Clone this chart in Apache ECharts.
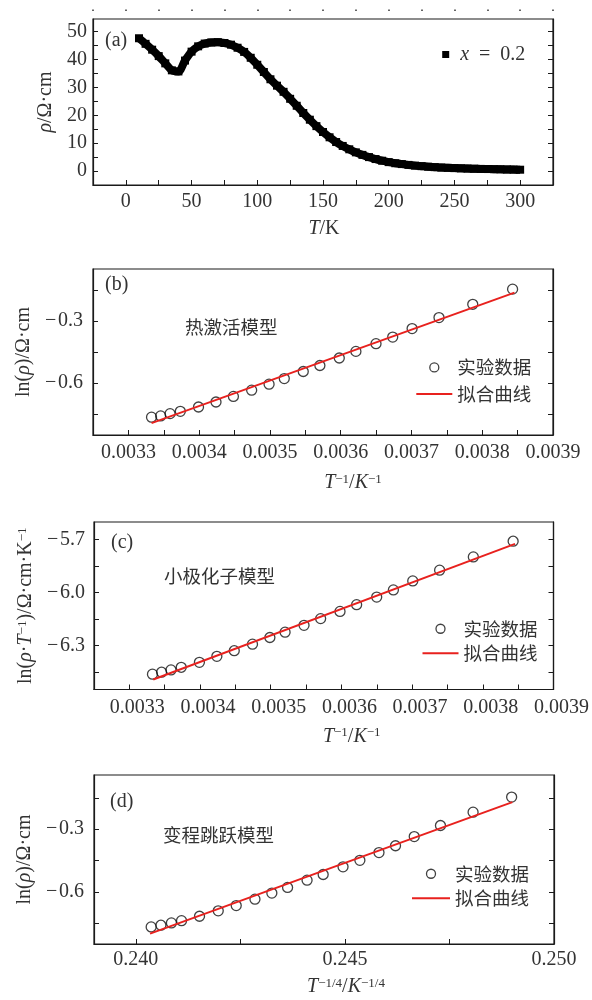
<!DOCTYPE html>
<html><head><meta charset="utf-8">
<script src="https://cdn.jsdelivr.net/npm/echarts@6/dist/echarts.min.js"></script>
<style>html,body{margin:0;padding:0;background:#fff}#c{width:592px;height:1000px}</style>
</head><body><div id="c"></div>
<script>
// ---- panel (a): resistivity vs temperature ----
const tempK = [10,15,20,25,30,35,40,45,50,55,60,65,70,75,80,85,90,95,100,105,110,115,120,125,130,135,140,145,150,155,160,165,170,175,180,185,190,195,200,205,210,215,220,225,230,235,240,245,250,255,260,265,270,275,280,285,290,295,300];
const rhoA = [47.6,45.6,43.5,41.2,38.6,36.1,35.7,39.6,42.8,44.7,45.7,46.1,46.2,45.9,45.3,44.2,42.7,40.6,38.1,35.5,32.9,30.6,28.4,25.9,23.4,20.8,18.4,16.1,14.0,12.1,10.4,9.0,7.8,6.7,5.8,5.0,4.3,3.7,3.2,2.8,2.5,2.2,1.95,1.75,1.55,1.4,1.25,1.15,1.05,0.97,0.9,0.83,0.77,0.72,0.67,0.62,0.57,0.52,0.48];
// ---- panels (b),(c): 1/T ----
const invT = [0.0033327,0.0033456,0.0033589,0.0033734,0.0033991,0.0034238,0.0034484,0.0034742,0.0034988,0.0035203,0.0035471,0.0035706,0.0035980,0.0036215,0.0036499,0.0036735,0.0037009,0.0037389,0.0037866,0.0038429];
const lnRhoB = [-0.764,-0.758,-0.747,-0.736,-0.715,-0.691,-0.664,-0.634,-0.605,-0.578,-0.544,-0.515,-0.479,-0.447,-0.410,-0.378,-0.337,-0.284,-0.220,-0.147];
const lnRhoTC = [-6.463,-6.452,-6.439,-6.424,-6.396,-6.362,-6.330,-6.293,-6.255,-6.225,-6.186,-6.148,-6.107,-6.069,-6.026,-5.985,-5.934,-5.873,-5.798,-5.709];
// ---- panel (d): T^-1/4 ----
const tQuarter = [0.240367,0.240600,0.240851,0.241093,0.241523,0.241971,0.242401,0.242849,0.243253,0.243629,0.244095,0.244480,0.244955,0.245358,0.245815,0.246210,0.246658,0.247285,0.248065,0.248987];
const lnRhoD = [-0.768,-0.760,-0.749,-0.738,-0.717,-0.691,-0.666,-0.635,-0.606,-0.579,-0.544,-0.517,-0.480,-0.449,-0.412,-0.379,-0.335,-0.282,-0.218,-0.146];
// ---- fitted lines (end points) ----
const fitBx = [0.0033327, 0.0038456], fitBy = [-0.793, -0.164];
const fitCx = [0.0033338, 0.0038456], fitCy = [-6.493, -5.724];
const fitDx = [0.240341, 0.249005], fitDy = [-0.8005, -0.170];
// ---- tick values / labels ----
const ticksAx = [-25,0,25,50,75,100,125,150,175,200,225,250,275,300,325];
const labelsAx = [0,50,100,150,200,250,300];
const ticksAy = [-5,0,5,10,15,20,25,30,35,40,45,50];
const labelsAy = [0,10,20,30,40,50];
const ticksInvT = [0.0033,0.00335,0.0034,0.00345,0.0035,0.00355,0.0036,0.00365,0.0037,0.00375,0.0038,0.00385,0.0039];
const labelsInvT = [0.0033,0.0034,0.0035,0.0036,0.0037,0.0038,0.0039];
const ticksLnRho = [-0.75,-0.6,-0.45,-0.3,-0.15];
const labelsLnRho = [-0.6,-0.3];
const ticksLnRhoT = [-6.45,-6.3,-6.15,-6.0,-5.85,-5.7];
const labelsLnRhoT = [-6.3,-6.0,-5.7];
const ticksTq = [0.24,0.2425,0.245,0.2475,0.25];
const labelsTq = [0.240,0.245,0.250];
const legendA = 'x = 0.2', legendData = '实验数据', legendFit = '拟合曲线';
const notes = ['热激活模型','小极化子模型','变程跳跃模型'];

const SERIF = '"Liberation Serif", "DejaVu Serif", serif';
const CJK = '"Noto Sans CJK SC", sans-serif';
const INK = '#1a1a1a', TXT = '#333', RED = '#e8211e';
const FS = 20;
const fmtMinus = d => v => (v < 0 ? '\u2212\u200a' : '') + Math.abs(v).toFixed(d);
const rich = {
  i: {fontStyle: 'italic', fontFamily: SERIF, fontSize: FS, color: TXT},
  s: {fontFamily: SERIF, fontSize: 13, verticalAlign: 'top', color: TXT},
  n: {fontFamily: SERIF, fontSize: FS, color: TXT}
};

const grids = [
  {left: 93, width: 460, top: 19, height: 166},
  {left: 93, width: 460, top: 269, height: 166},
  {left: 94, width: 459.5, top: 522, height: 167.5},
  {left: 94, width: 460, top: 775, height: 169}
].map(g => Object.assign(g, {show: true, borderColor: INK, borderWidth: 1.2, backgroundColor: 'transparent'}));

function xAx(gi, min, max, ticks, labels, fmt, name, gap, shift, margin, labelPad) {
  return {
    type: 'value', gridIndex: gi, position: 'bottom', min, max,
    axisLine: {show: true, onZero: false, lineStyle: {color: INK, width: 1.2}},
    axisTick: {show: true, inside: true, length: 5, customValues: ticks, lineStyle: {color: INK, width: 1}},
    axisLabel: {show: true, customValues: labels, formatter: fmt, margin, padding: labelPad || 0,
      fontFamily: SERIF, fontSize: FS, color: TXT},
    splitLine: {show: false},
    name, nameLocation: 'middle', nameGap: gap,
    nameTextStyle: {fontFamily: SERIF, fontSize: FS, color: TXT, rich, padding: [0, 0, 0, shift * 2]}
  };
}
function yAx(gi, min, max, ticks, labels, fmt, name, gap, margin) {
  return {
    type: 'value', gridIndex: gi, position: 'left', min, max,
    axisLine: {show: true, onZero: false, lineStyle: {color: INK, width: 1.2}},
    axisTick: {show: true, inside: true, length: 5, customValues: ticks, lineStyle: {color: INK, width: 1}},
    axisLabel: {show: true, customValues: labels, formatter: fmt, margin,
      fontFamily: SERIF, fontSize: FS, color: TXT},
    splitLine: {show: false},
    name, nameLocation: 'middle', nameGap: gap, nameRotate: 90,
    nameTextStyle: {fontFamily: SERIF, fontSize: FS, color: TXT, rich}
  };
}
function yRight(gi, min, max, ticks) {
  return {
    type: 'value', gridIndex: gi, position: 'right', min, max,
    axisLine: {show: true, onZero: false, lineStyle: {color: INK, width: 1.2}},
    axisTick: {show: true, inside: true, length: 5, customValues: ticks, lineStyle: {color: INK, width: 1}},
    axisLabel: {show: false}, splitLine: {show: false}
  };
}

const xAxes = [
  xAx(0, -25, 325, ticksAx, labelsAx, v => String(v), '{i|T}/K', 34, 1, 7),
  xAx(1, 0.00325, 0.0039, ticksInvT, labelsInvT, v => v.toFixed(4), '{i|T}{s|\u22121}/{i|K}{s|\u22121}', 38, 30, 8),
  xAx(2, 0.00325, 0.0039, ticksInvT, labelsInvT, v => v.toFixed(4), '{i|T}{s|\u22121}/{i|K}{s|\u22121}', 37, 28, 8, [0, 0, 0, 16]),
  xAx(3, 0.239, 0.25, ticksTq, labelsTq, v => v.toFixed(3), '{i|T}{s|\u22121/4}/{i|K}{s|\u22121/4}', 33, 22, 6),
  // dotted top decoration of panel (a)
  {type: 'value', gridIndex: 0, position: 'top', offset: 8, min: -25, max: 325, interval: 25,
   axisLine: {show: false, onZero: false}, axisLabel: {show: false}, splitLine: {show: false},
   axisTick: {show: true, inside: false, length: 1.5, lineStyle: {color: '#333', width: 1.5}}}
];
const yAxes = [
  yAx(0, -5, 54.5, ticksAy, labelsAy, v => String(v), '{i|\u03c1}/\u03a9\u00b7cm', 28, 6),
  yAx(1, -0.85, -0.05, ticksLnRho, labelsLnRho, fmtMinus(1), 'ln({i|\u03c1})/\u03a9\u00b7cm', 43, 10),
  yAx(2, -6.55, -5.6, ticksLnRhoT, labelsLnRhoT, fmtMinus(1), 'ln({i|\u03c1}\u00b7{i|T}{s|\u22121})/\u03a9\u00b7cm\u00b7K{s|\u22121}', 58, 9),
  yAx(3, -0.85, -0.04, ticksLnRho, labelsLnRho, fmtMinus(1), 'ln({i|\u03c1})/\u03a9\u00b7cm', 43, 10),
  yRight(0, -5, 54.5, ticksAy),
  yRight(1, -0.85, -0.05, ticksLnRho),
  yRight(2, -6.55, -5.6, ticksLnRhoT),
  yRight(3, -0.85, -0.04, ticksLnRho)
];

const zip = (xs, ys) => xs.map((x, i) => [x, ys[i]]);
const dataStyle = {color: 'transparent', borderColor: '#111', borderWidth: 1.3};
function scatterS(gi, xs, ys) {
  return {type: 'scatter', name: legendData, xAxisIndex: gi, yAxisIndex: gi, data: zip(xs, ys),
    symbol: 'circle', symbolSize: 10, itemStyle: dataStyle, silent: true};
}
function fitS(gi, xs, ys) {
  return {type: 'line', name: legendFit, xAxisIndex: gi, yAxisIndex: gi, data: zip(xs, ys),
    symbol: 'none', lineStyle: {color: RED, width: 2}, itemStyle: {color: RED}, silent: true};
}
const series = [
  {type: 'line', name: legendA, xAxisIndex: 0, yAxisIndex: 0, data: zip(tempK, rhoA),
   symbol: 'rect', symbolSize: 8, showAllSymbol: true, smooth: 0.3,
   lineStyle: {color: '#000', width: 8, join: 'round'},
   itemStyle: {color: '#000'}, silent: true},
  scatterS(1, invT, lnRhoB), fitS(1, fitBx, fitBy),
  scatterS(2, invT, lnRhoTC), fitS(2, fitCx, fitCy),
  scatterS(3, tQuarter, lnRhoD), fitS(3, fitDx, fitDy)
];

function legendPair(left, top, w, gap) {
  return {left, top, orient: 'vertical', padding: 0, itemWidth: w, itemHeight: 9, itemGap: gap,
    selectedMode: false, textStyle: {fontFamily: CJK, fontSize: 18.5, color: TXT},
    data: [{name: legendData, icon: 'circle', itemStyle: dataStyle},
           {name: legendFit, icon: 'path://M0 0H36V2H0Z', itemStyle: {color: RED}}]};
}
const legends = [
  {left: 442.2, top: 44.5, padding: 0, itemWidth: 7, itemHeight: 7, selectedMode: false,
   formatter: () => '{i|x}\u2002=\u20020.2',
   textStyle: {fontFamily: SERIF, fontSize: FS, color: TXT, rich, padding: [0, 0, 0, 6]},
   data: [{name: legendA, icon: 'rect', itemStyle: {color: '#000'}}]},
  legendPair(416.3, 358.2, 36, 8),
  legendPair(422.5, 619.5, 36, 6),
  legendPair(412, 864.5, 38, 6)
];

const label = (text, x, y, font) => ({type: 'text', x, y, silent: true,
  style: {text, font, fill: TXT, verticalAlign: 'middle', align: 'left'}});
const graphic = [
  label('(a)', 105, 41, FS + 'px ' + SERIF),
  label('(b)', 105, 285, FS + 'px ' + SERIF),
  label('(c)', 111, 543, FS + 'px ' + SERIF),
  label('(d)', 110, 802, FS + 'px ' + SERIF),
  label(notes[0], 185, 327, '18.5px ' + CJK),
  label(notes[1], 164, 576, '18.5px ' + CJK),
  label(notes[2], 163, 835, '18.5px ' + CJK)
];

const chart = echarts.init(document.getElementById('c'), null, {renderer: 'canvas'});
chart.setOption({
  animation: false, backgroundColor: '#fff',
  grid: grids, xAxis: xAxes, yAxis: yAxes, series, legend: legends, graphic
});
</script></body></html>
